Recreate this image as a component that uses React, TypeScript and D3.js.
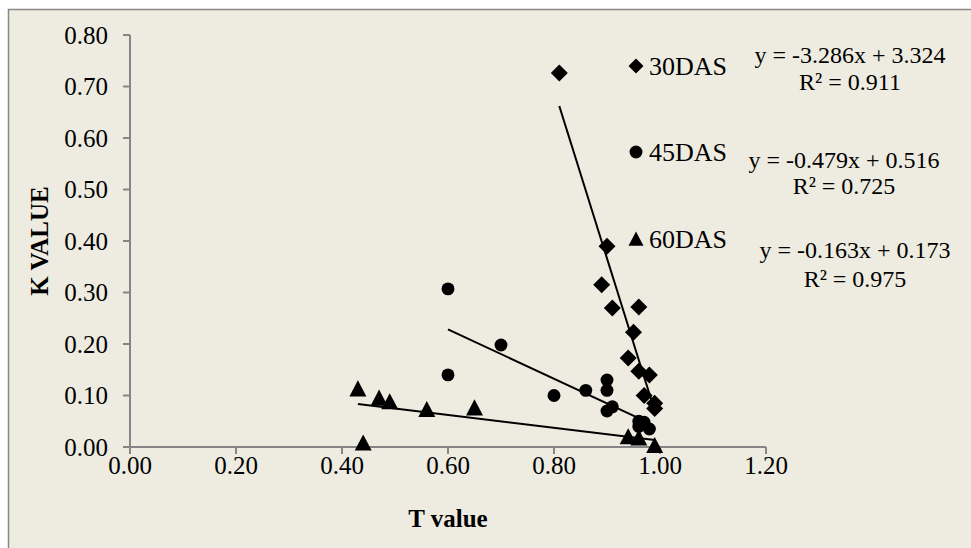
import React from "react";
import * as d3 from "d3";

const xTicks = [0, 0.2, 0.4, 0.6, 0.8, 1.0, 1.2];
const yTicks = [0, 0.1, 0.2, 0.3, 0.4, 0.5, 0.6, 0.7, 0.8];

const das30X = [0.81, 0.90, 0.89, 0.91, 0.96, 0.95, 0.94, 0.96, 0.98, 0.97, 0.99, 0.99];
const das30Y = [0.726, 0.39, 0.315, 0.27, 0.272, 0.223, 0.173, 0.147, 0.14, 0.10, 0.085, 0.075];

const das45X = [0.60, 0.60, 0.70, 0.80, 0.86, 0.90, 0.90, 0.90, 0.91, 0.96, 0.97, 0.96, 0.98];
const das45Y = [0.307, 0.14, 0.198, 0.10, 0.11, 0.13, 0.11, 0.07, 0.078, 0.05, 0.048, 0.04, 0.035];

const das60X = [0.43, 0.44, 0.47, 0.49, 0.56, 0.65, 0.94, 0.96, 0.99];
const das60Y = [0.113, 0.008, 0.095, 0.088, 0.073, 0.076, 0.02, 0.018, 0.003];

const seriesNames = ["30DAS", "45DAS", "60DAS"];
const equations = ["y = -3.286x + 3.324", "y = -0.479x + 0.516", "y = -0.163x + 0.173"];
const rSquared = ["R² = 0.911", "R² = 0.725", "R² = 0.975"];

const W = 971;
const H = 548;
const FONT = "'Liberation Serif', 'Times New Roman', serif";

const x = d3.scaleLinear().domain([0, 1.2]).range([130, 766]);
const y = d3.scaleLinear().domain([0, 0.8]).range([447, 35]);

function fit(xs: number[], ys: number[]) {
  const mx = d3.mean(xs)!;
  const my = d3.mean(ys)!;
  let sxy = 0, sxx = 0;
  xs.forEach((v, i) => { sxy += (v - mx) * (ys[i] - my); sxx += (v - mx) * (v - mx); });
  const slope = sxy / sxx;
  return { slope, intercept: my - slope * mx, x0: d3.min(xs)!, x1: d3.max(xs)! };
}

function Marker({ kind, cx, cy, s }: { kind: number; cx: number; cy: number; s: number }) {
  if (kind === 0) {
    const h = s / 2;
    return <path d={`M${cx},${cy - h}L${cx + h},${cy}L${cx},${cy + h}L${cx - h},${cy}Z`} fill="#000" />;
  }
  if (kind === 1) {
    return <circle cx={cx} cy={cy} r={s * 0.38} fill="#000" />;
  }
  const h = s / 2;
  return <path d={`M${cx},${cy - h}L${cx + h},${cy + h * 0.9}L${cx - h},${cy + h * 0.9}Z`} fill="#000" />;
}

export default function App() {
  const series = [
    { xs: das30X, ys: das30Y },
    { xs: das45X, ys: das45Y },
    { xs: das60X, ys: das60Y },
  ];
  const line = d3.line<[number, number]>().x(d => x(d[0])).y(d => y(d[1]));
  const legendY = [66, 152, 239];
  const eqPos = [
    { cx: 850, b1: 63, b2: 90 },
    { cx: 844, b1: 168, b2: 194 },
    { cx: 855, b1: 258, b2: 287 },
  ];
  const axisColor = "#868686";
  return (
    <svg width={W} height={H} style={{ position: "absolute", left: 0, top: 0 }} fontFamily={FONT}>
      <rect x={0} y={0} width={W} height={H} fill="#fff" />
      <rect x={8.5} y={9.5} width={W + 10} height={H + 10} fill="#EEECE1" stroke="#888" strokeWidth={1.5} />
      {/* axes */}
      <line x1={x(0)} x2={x(0)} y1={y(0.8)} y2={y(0)} stroke={axisColor} strokeWidth={2} />
      <line x1={x(0)} x2={x(1.2)} y1={y(0)} y2={y(0)} stroke={axisColor} strokeWidth={2} />
      {yTicks.map(t => (
        <g key={"y" + t}>
          <line x1={x(0) - 7} x2={x(0)} y1={y(t)} y2={y(t)} stroke={axisColor} strokeWidth={2} />
          <text x={108} y={y(t)} dy="0.35em" textAnchor="end" fontSize={25} fill="#000">{t.toFixed(2)}</text>
        </g>
      ))}
      {xTicks.map(t => (
        <g key={"x" + t}>
          <line x1={x(t)} x2={x(t)} y1={y(0)} y2={y(0) + 7} stroke={axisColor} strokeWidth={2} />
          <text x={x(t)} y={474} textAnchor="middle" fontSize={25} fill="#000">{t.toFixed(2)}</text>
        </g>
      ))}
      <text transform={`translate(48,241) rotate(-90)`} textAnchor="middle" fontSize={25} fontWeight="bold">K VALUE</text>
      <text x={448} y={527} textAnchor="middle" fontSize={25} fontWeight="bold">T value</text>
      {/* trend lines */}
      {series.map((s, i) => {
        const f = fit(s.xs, s.ys);
        return (
          <path key={"t" + i}
            d={line([[f.x0, f.intercept + f.slope * f.x0], [f.x1, f.intercept + f.slope * f.x1]])!}
            stroke="#000" strokeWidth={2} fill="none" />
        );
      })}
      {/* markers */}
      {series.map((s, i) => s.xs.map((v, j) => (
        <Marker key={`m${i}-${j}`} kind={i} cx={x(v)} cy={y(s.ys[j])} s={17} />
      )))}
      {/* legend */}
      {seriesNames.map((n, i) => (
        <g key={"l" + i}>
          <Marker kind={i} cx={636} cy={legendY[i]} s={i === 1 ? 17 : 15} />
          <text x={649} y={legendY[i] + 9} fontSize={26}>{n}</text>
        </g>
      ))}
      {equations.map((e, i) => (
        <g key={"e" + i}>
          <text x={eqPos[i].cx} y={eqPos[i].b1} textAnchor="middle" fontSize={24}>{e}</text>
          <text x={eqPos[i].cx} y={eqPos[i].b2} textAnchor="middle" fontSize={24}>{rSquared[i]}</text>
        </g>
      ))}
    </svg>
  );
}
